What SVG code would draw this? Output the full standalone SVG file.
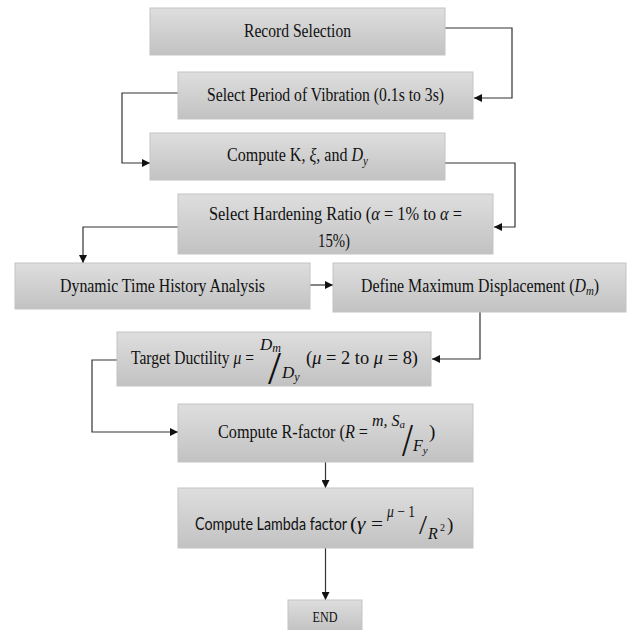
<svg xmlns="http://www.w3.org/2000/svg" width="627" height="630" viewBox="0 0 627 630">
<style>
.box{fill:url(#g);stroke:#c4c4c4;stroke-width:1}
.t{font-family:"Liberation Serif","Times New Roman",serif;font-size:19px;fill:#111}
.s{font-family:Lato,"Liberation Sans",sans-serif;font-size:17px;fill:#111}
.i{font-style:italic}
.c{text-anchor:middle}
.f16{font-size:16px}
.ln{fill:none;stroke:#333;stroke-width:1.2}
</style>
<defs>
<linearGradient id="g" x1="0" y1="0" x2="0" y2="1">
<stop offset="0" stop-color="#dedede"/>
<stop offset="1" stop-color="#c2c2c2"/>
</linearGradient>
<marker id="a" markerUnits="userSpaceOnUse" markerWidth="8" markerHeight="8" refX="8" refY="4" orient="auto">
<path d="M0,0 L8,4 L0,8 z" fill="#111"/>
</marker>
</defs>

<g id="connectors">
<path class="ln" d="M445,28 H512 V98 H474" marker-end="url(#a)"/>
<path class="ln" d="M178,93 H122 V163 H150" marker-end="url(#a)"/>
<path class="ln" d="M445,163 H515 V227 H494" marker-end="url(#a)"/>
<path class="ln" d="M178,227 H83 V263" marker-end="url(#a)"/>
<path class="ln" d="M310,285 H333" marker-end="url(#a)"/>
<path class="ln" d="M480,312 V359 H432" marker-end="url(#a)"/>
<path class="ln" d="M117,360 H92 V432 H178" marker-end="url(#a)"/>
<path class="ln" d="M325.5,462 V488" marker-end="url(#a)"/>
<path class="ln" d="M325.5,548 V600" marker-end="url(#a)"/>
</g>

<g id="record">
<rect class="box" x="150" y="8" width="295" height="47"/>
<text class="t c" x="297.5" y="37" textLength="107" lengthAdjust="spacingAndGlyphs">Record Selection</text>
</g>

<g id="period">
<rect class="box" x="178" y="72" width="295" height="47"/>
<text class="t c" x="325.5" y="101" textLength="237" lengthAdjust="spacingAndGlyphs">Select Period of Vibration (0.1s to 3s)</text>
</g>

<g id="computeK">
<rect class="box" x="150" y="133" width="295" height="47"/>
<text class="t c" x="297.5" y="161" textLength="141" lengthAdjust="spacingAndGlyphs">Compute K, <tspan class="i">ξ</tspan>, and <tspan class="i">D</tspan><tspan class="i" style="font-size:13px" dy="4">y</tspan></text>
</g>

<g id="hardening">
<rect class="box" x="178" y="194" width="315" height="60"/>
<text class="t c" x="335.5" y="220" textLength="253" lengthAdjust="spacingAndGlyphs">Select Hardening Ratio (<tspan class="i">α</tspan> = 1% to <tspan class="i">α</tspan> =</text>
<text class="t c" x="334" y="247" textLength="32" lengthAdjust="spacingAndGlyphs">15%)</text>
</g>

<g id="dynamic">
<rect class="box" x="15" y="263" width="295" height="46"/>
<text class="t c" x="162.5" y="292" textLength="205" lengthAdjust="spacingAndGlyphs">Dynamic Time History Analysis</text>
</g>

<g id="define">
<rect class="box" x="333" y="263" width="293" height="49"/>
<text class="t c" x="480" y="292" textLength="238" lengthAdjust="spacingAndGlyphs">Define Maximum Displacement (<tspan class="i">D</tspan><tspan class="i" style="font-size:13px" dy="3">m</tspan><tspan dy="-3">)</tspan></text>
</g>

<g id="target">
<rect class="box" x="117" y="332" width="314" height="54"/>
<text class="t" x="131" y="364" textLength="123" lengthAdjust="spacingAndGlyphs">Target Ductility <tspan class="i">μ</tspan> =</text>
<text class="t i" x="260" y="350" style="font-size:17px">D<tspan style="font-size:12px" dy="2">m</tspan></text>
<text class="t" x="268" y="384" style="font-size:46px" textLength="13" lengthAdjust="spacingAndGlyphs">/</text>
<text class="t i" x="282" y="378" style="font-size:17px">D<tspan style="font-size:12px" dy="3">y</tspan></text>
<text class="t" x="306" y="364" textLength="112" lengthAdjust="spacingAndGlyphs">(<tspan class="i">μ</tspan> = 2 to <tspan class="i">μ</tspan> = 8)</text>
</g>

<g id="computeR">
<rect class="box" x="178" y="404" width="295" height="58"/>
<text class="t" x="218" y="438" textLength="150" lengthAdjust="spacingAndGlyphs">Compute R-factor (<tspan class="i">R</tspan> =</text>
<text class="t i f16" x="372" y="426">m, S<tspan style="font-size:11px" dy="2">a</tspan></text>
<text class="t" x="402" y="456" style="font-size:46px" textLength="11" lengthAdjust="spacingAndGlyphs">/</text>
<text class="t i f16" x="413" y="451">F<tspan style="font-size:11px" dy="3">y</tspan></text>
<text class="t" x="429" y="438">)</text>
</g>

<g id="lambda">
<rect class="box" x="178" y="488" width="295" height="60"/>
<text class="s" x="195" y="530" textLength="152" lengthAdjust="spacingAndGlyphs">Compute Lambda factor</text>
<text class="t" x="350" y="530" textLength="33" lengthAdjust="spacingAndGlyphs">(<tspan class="i">γ</tspan> =</text>
<text class="t" x="387" y="517" style="font-size:16px" textLength="28" lengthAdjust="spacingAndGlyphs"><tspan class="i">μ</tspan> − 1</text>
<text class="t" x="419" y="534" style="font-size:28px" textLength="8" lengthAdjust="spacingAndGlyphs">/</text>
<text class="t i f16" x="428" y="539">R</text>
<text class="t" x="440" y="531" style="font-size:10px">2</text>
<text class="t" x="447" y="531">)</text>
</g>

<g id="end">
<rect class="box" x="288" y="600" width="74" height="31"/>
<text class="t c" x="325" y="622" style="font-size:15px" textLength="25" lengthAdjust="spacingAndGlyphs">END</text>
</g>
</svg>
